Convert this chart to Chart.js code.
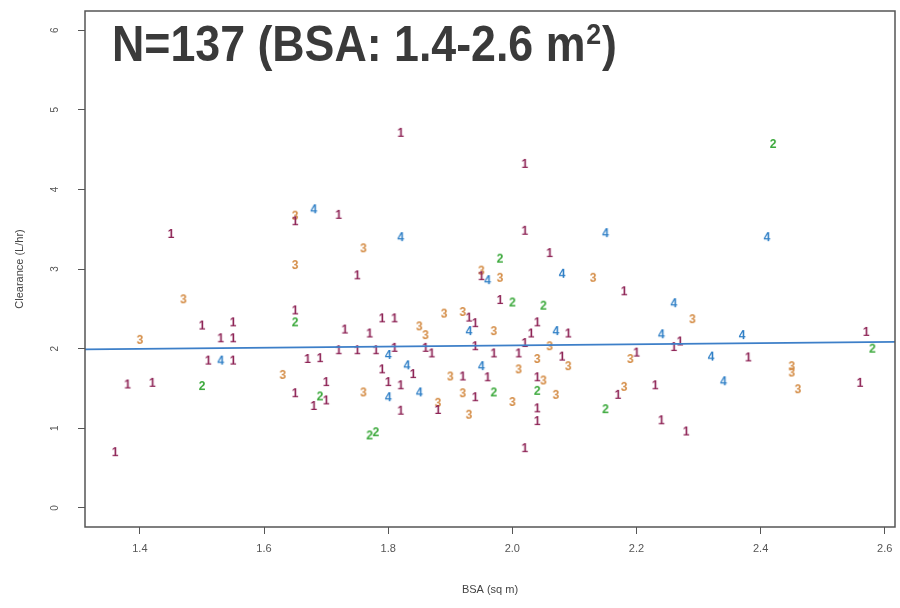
<!DOCTYPE html>
<html>
<head>
<meta charset="utf-8">
<script src="https://cdn.jsdelivr.net/npm/chart.js@4.4.1/dist/chart.umd.min.js"></script>
<style>
  html, body { margin: 0; padding: 0; background: #fff; }
  #wrap { width: 900px; height: 608px; }
</style>
</head>
<body>
<div id="wrap"><canvas id="plot" width="900" height="608"></canvas></div>
<script>
// Clearance against body surface area; each subject is plotted as its group digit
const xTicks = [1.4, 1.6, 1.8, 2.0, 2.2, 2.4, 2.6];
const yTicks = [0, 1, 2, 3, 4, 5, 6];

// group 1
const bsa1 = [1.36, 1.38, 1.42, 1.45, 1.50, 1.55, 1.53, 1.55, 1.51, 1.55, 1.65, 1.65,
  1.65, 1.67, 1.69, 1.68, 1.70, 1.70, 1.72, 1.72, 1.73, 1.75, 1.75, 1.77, 1.78, 1.79,
  1.81, 1.81, 1.79, 1.80, 1.82, 1.82, 1.82, 1.84, 1.86, 1.87, 1.88, 1.92, 1.93, 1.94,
  1.94, 1.94, 1.96, 1.97, 1.98, 2.01, 2.02, 2.02, 2.02, 2.02, 2.03, 2.04, 2.04, 2.04,
  2.04, 2.06, 2.08, 2.09, 2.17, 2.18, 2.20, 2.23, 2.24, 2.26, 2.27, 2.28, 2.38, 2.56,
  2.57, 1.95];
const clr1 = [0.70, 1.55, 1.57, 3.44, 2.29, 2.33, 2.13, 2.13, 1.85, 1.85, 3.60, 2.48,
  1.44, 1.87, 1.88, 1.28, 1.35, 1.58, 3.68, 1.98, 2.24, 2.92, 1.98, 2.19, 1.98, 2.38,
  2.38, 2.01, 1.74, 1.58, 1.54, 1.22, 4.71, 1.68, 2.01, 1.94, 1.23, 1.65, 2.39, 2.32,
  2.03, 1.39, 1.64, 1.94, 2.61, 1.94, 2.07, 4.32, 3.48, 0.75, 2.19, 2.33, 1.64, 1.25,
  1.09, 3.20, 1.90, 2.19, 1.42, 2.72, 1.95, 1.54, 1.10, 2.02, 2.09, 0.96, 1.89, 1.57,
  2.21, 2.91];

// group 2
const bsa2 = [2.42, 1.98, 2.00, 2.05, 1.65, 1.50, 1.69, 1.97, 2.04, 2.15, 1.77, 1.78, 2.58];
const clr2 = [4.57, 3.13, 2.58, 2.54, 2.33, 1.53, 1.40, 1.45, 1.47, 1.24, 0.91, 0.95, 2.00];

// group 3
const bsa3 = [1.40, 1.47, 1.65, 1.65, 1.63, 1.76, 1.76, 1.85, 1.86, 1.89, 1.92, 1.90,
  1.92, 1.88, 1.93, 1.95, 1.98, 1.97, 2.00, 2.01, 2.06, 2.04, 2.09, 2.05, 2.07, 2.13,
  2.19, 2.18, 2.29, 2.45, 2.45, 2.46];
const clr3 = [2.11, 2.62, 3.67, 3.05, 1.67, 3.26, 1.45, 2.28, 2.17, 2.44, 2.46, 1.65,
  1.44, 1.32, 1.17, 2.98, 2.89, 2.22, 1.33, 1.74, 2.03, 1.87, 1.78, 1.60, 1.42, 2.89,
  1.87, 1.52, 2.37, 1.78, 1.70, 1.49];

// group 4
const bsa4 = [1.68, 1.82, 1.96, 2.08, 2.15, 2.41, 2.26, 1.93, 2.07, 2.24, 2.37, 1.53,
  1.80, 1.83, 1.95, 2.32, 2.34, 1.85, 1.80];
const clr4 = [3.75, 3.40, 2.86, 2.94, 3.45, 3.40, 2.57, 2.22, 2.22, 2.18, 2.17, 1.85,
  1.92, 1.79, 1.78, 1.90, 1.59, 1.45, 1.39];

// fitted line, end points at the plot edges
const fitBsa = [1.311, 2.617];
const fitClr = [1.99, 2.085];

const groupColors = ['#8e2456', '#3aa83a', '#d48c45', '#2f7fc6'];

function pairs(xs, ys) {
  return xs.map((x, i) => ({ x: x, y: ys[i] }));
}

// small canvas with the group digit, used as the point style
function digitMark(txt, color) {
  const c = document.createElement('canvas');
  c.width = 14;
  c.height = 16;
  const g = c.getContext('2d');
  g.font = 'bold 12px "Liberation Sans", Arial, sans-serif';
  g.fillStyle = color;
  g.textAlign = 'center';
  g.textBaseline = 'middle';
  g.fillText(txt, 7, 8.5);
  return c;
}

function groupSet(n, xs, ys) {
  return {
    type: 'scatter',
    label: String(n),
    data: pairs(xs, ys),
    pointStyle: digitMark(String(n), groupColors[n - 1]),
    pointRadius: 3,
    order: 1
  };
}

// frame around the plotting region
const frame = {
  id: 'frame',
  afterDraw(chart) {
    const a = chart.chartArea;
    const ctx = chart.ctx;
    ctx.save();
    ctx.strokeStyle = '#555';
    ctx.lineWidth = 1.5;
    ctx.strokeRect(a.left, a.top, a.right - a.left, a.bottom - a.top);
    ctx.restore();
  }
};

// big caption inside the plot, with superscript 2
const headline = {
  id: 'headline',
  afterDatasetsDraw(chart) {
    const ctx = chart.ctx;
    const big = 'bold 50px "Liberation Sans Narrow", "Liberation Sans", Arial, sans-serif';
    const small = 'bold 30px "Liberation Sans Narrow", "Liberation Sans", Arial, sans-serif';
    const head = 'N=137 (BSA: 1.4-2.6 m';
    ctx.save();
    ctx.fillStyle = '#3a3a3a';
    ctx.textBaseline = 'alphabetic';
    ctx.textAlign = 'left';
    ctx.font = big;
    const wHead = ctx.measureText(head).width;
    const wClose = ctx.measureText(')').width;
    ctx.font = small;
    const wSup = ctx.measureText('2').width + 2;
    const sx = 505 / (wHead + wSup + wClose);
    ctx.translate(112, 61);
    ctx.scale(sx, 1);
    ctx.font = big;
    ctx.fillText(head, 0, 0);
    ctx.fillText(')', wHead + wSup, 0);
    ctx.font = small;
    ctx.fillText('2', wHead + 1, -17);
    ctx.restore();
  }
};

const tickFont = { family: '"Liberation Sans", Arial, sans-serif', size: 11 };

new Chart(document.getElementById('plot'), {
  data: {
    datasets: [
      {
        type: 'line',
        label: 'fit',
        data: pairs(fitBsa, fitClr),
        borderColor: '#3d7fc8',
        borderWidth: 1.6,
        pointRadius: 0,
        fill: false,
        order: 0
      },
      groupSet(1, bsa1, clr1),
      groupSet(2, bsa2, clr2),
      groupSet(3, bsa3, clr3),
      groupSet(4, bsa4, clr4)
    ]
  },
  options: {
    responsive: false,
    devicePixelRatio: 1,
    animation: false,
    events: [],
    layout: { padding: { top: 11, right: 0, left: 0, bottom: 0 } },
    plugins: {
      legend: { display: false },
      tooltip: { enabled: false }
    },
    scales: {
      x: {
        type: 'linear',
        min: 1.3116,
        max: 2.6165,
        afterBuildTicks: s => { s.ticks = xTicks.map(v => ({ value: v })); },
        afterFit: s => {
          s.height = 81;
          s.paddingLeft = 0;
          s.paddingRight = 0;
        },
        grid: { drawOnChartArea: false, tickLength: 7, color: '#555', tickWidth: 1 },
        border: { display: false },
        ticks: {
          color: '#555',
          font: tickFont,
          padding: 8,
          maxRotation: 0,
          callback: v => Number(v).toFixed(1)
        },
        title: {
          display: true,
          text: 'BSA (sq m)',
          color: '#444',
          font: tickFont,
          padding: { bottom: 11 }
        }
      },
      y: {
        type: 'linear',
        min: -0.24,
        max: 6.24,
        afterBuildTicks: s => { s.ticks = yTicks.map(v => ({ value: v })); },
        afterFit: s => {
          s.width = 85;
          s.paddingTop = 0;
          s.paddingBottom = 0;
        },
        grid: { drawOnChartArea: false, tickLength: 7, color: '#555', tickWidth: 1 },
        border: { display: false },
        ticks: {
          color: '#555',
          font: { family: '"Liberation Sans", Arial, sans-serif', size: 10 },
          padding: 20,
          minRotation: 90,
          maxRotation: 90,
          crossAlign: 'center',
          callback: v => String(v)
        },
        title: {
          display: true,
          text: 'Clearance (L/hr)',
          color: '#444',
          font: tickFont,
          padding: { top: 13 }
        }
      }
    }
  },
  plugins: [frame, headline]
});
</script>
</body>
</html>
